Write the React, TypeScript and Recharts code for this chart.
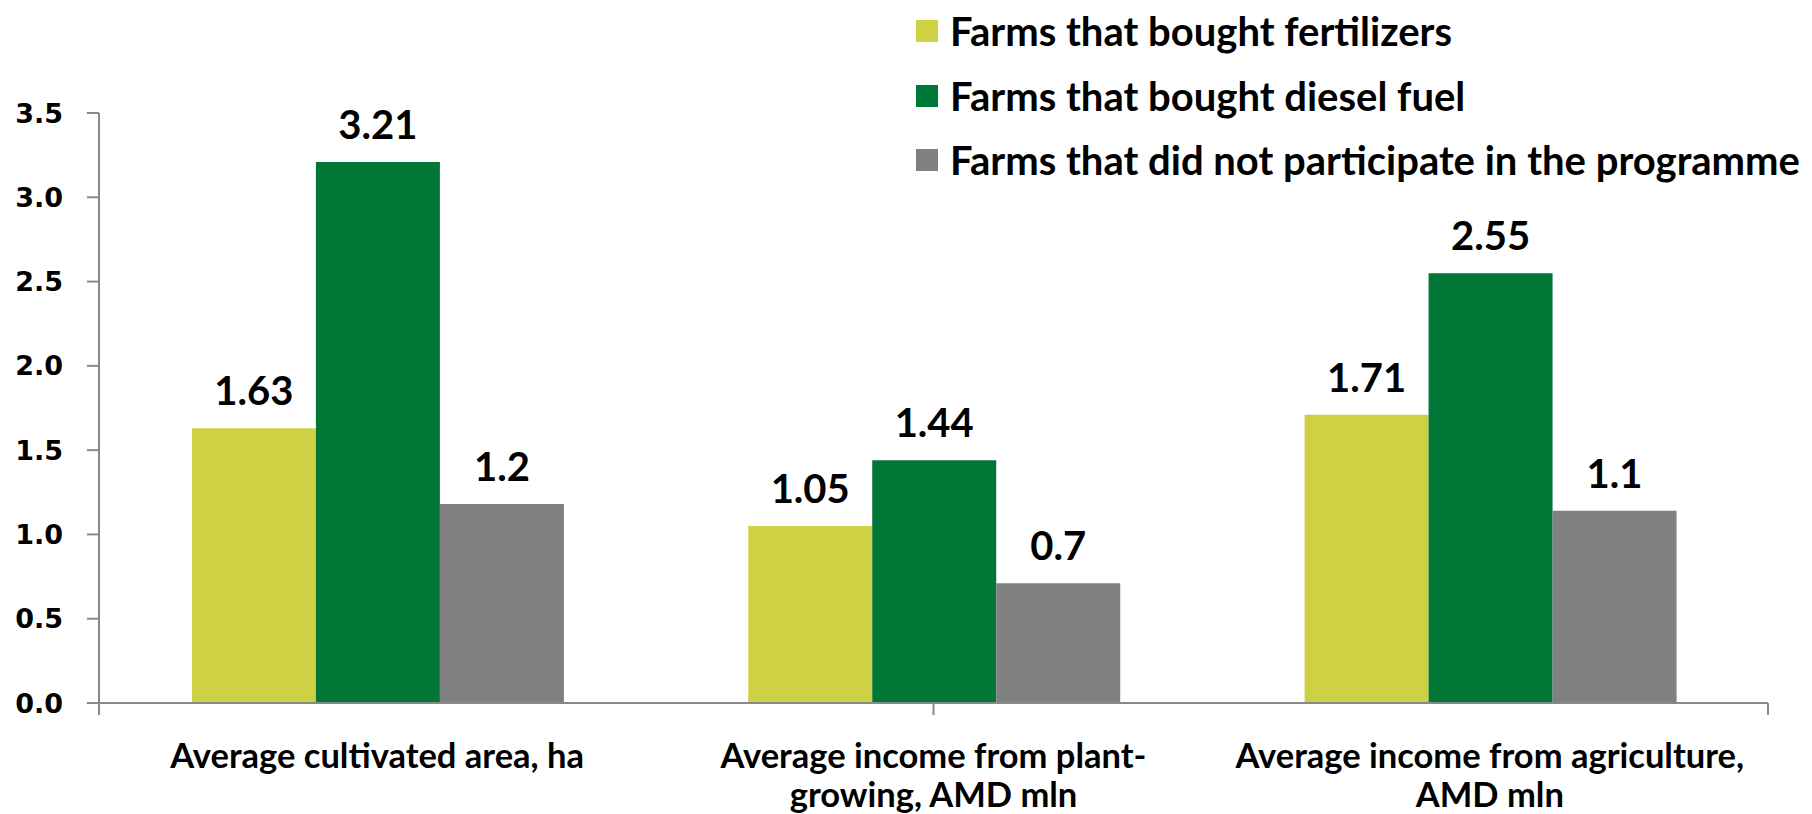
import React from "react";
import { BarChart, Bar, XAxis, YAxis, Legend, LabelList } from "recharts";

const categories = [
  "Average cultivated area, ha",
  "Average income from plant-\ngrowing, AMD mln",
  "Average income from agriculture,\nAMD mln",
];
const fertilizers = [1.63, 1.05, 1.71];
const diesel = [3.21, 1.44, 2.55];
const nonParticipants = [1.18, 0.71, 1.14];
const nonParticipantLabels = ["1.2", "0.7", "1.1"];
const yTicks = [0, 0.5, 1, 1.5, 2, 2.5, 3, 3.5];

const seriesNames = [
  "Farms that bought fertilizers",
  "Farms that bought diesel fuel",
  "Farms that did not participate in the programme",
];

const data = categories.map((name, i) => ({
  name,
  fert: fertilizers[i],
  diesel: diesel[i],
  none: nonParticipants[i],
  noneLabel: nonParticipantLabels[i],
}));

const FONT = "Lato, 'Open Sans', sans-serif";
const AXIS = "#898989";

const CategoryTick = (props: any) => {
  const { x, y, payload } = props;
  const lines = String(payload.value).split("\n");
  return (
    <text x={x} y={y} textAnchor="middle" fill="#000" fontFamily={FONT} fontWeight={700} fontSize={34.5}>
      {lines.map((line, i) => (
        <tspan key={i} x={x} dy={i === 0 ? 51 : 39}>
          {line}
        </tspan>
      ))}
    </text>
  );
};

const EmptyTick = () => <g />;

const renderLegend = (props: any) => {
  // keep the series order, not alphabetical
  const payload = [...props.payload].sort(
    (a: any, b: any) => seriesNames.indexOf(a.value) - seriesNames.indexOf(b.value)
  );
  return (
    <div style={{ fontFamily: FONT, fontWeight: 700, fontSize: 40, color: "#000" }}>
      {payload.map((entry: any) => (
        <div key={entry.value} style={{ display: "flex", alignItems: "center", height: 64.5 }}>
          <span style={{ width: 22, height: 22, background: entry.color, marginRight: 12, display: "inline-block" }} />
          <span style={{ whiteSpace: "nowrap" }}>{entry.value}</span>
        </div>
      ))}
    </div>
  );
};

const labelStyle = { fontFamily: FONT, fontWeight: 700, fontSize: 40, fill: "#000" };

export default function App() {
  return (
    <div style={{ position: "absolute", left: 0, top: 0, background: "#fff" }}>
      <BarChart
        width={1812}
        height={814}
        data={data}
        margin={{ top: 113, right: 44, left: 0, bottom: 0 }}
        barCategoryGap="16.7%"
        barGap={0}
      >
        {/* axis line with ticks on the category boundaries */}
        <XAxis
          xAxisId={0}
          type="number"
          domain={[0, 3]}
          ticks={[0, 1, 2, 3]}
          allowDataOverflow
          tick={<EmptyTick />}
          tickSize={12}
          height={14}
          axisLine={{ stroke: AXIS, strokeWidth: 2 }}
          tickLine={{ stroke: AXIS, strokeWidth: 2 }}
        />
        <XAxis
          xAxisId={1}
          dataKey="name"
          axisLine={false}
          tickLine={false}
          tickSize={0}
          tickMargin={0}
          interval={0}
          height={97}
          tick={<CategoryTick />}
        />
        <YAxis
          domain={[0, 3.5]}
          ticks={yTicks}
          width={99}
          tickSize={12}
          tickMargin={24}
          tickFormatter={(v: number) => v.toFixed(1)}
          axisLine={{ stroke: AXIS, strokeWidth: 2 }}
          tickLine={{ stroke: AXIS, strokeWidth: 2 }}
          tick={{ fill: "#000", fontFamily: "'DejaVu Sans', Verdana, sans-serif", fontWeight: 700, fontSize: 27 }}
        />
        <Legend
          layout="vertical"
          align="center"
          verticalAlign="middle"
          content={renderLegend}
          wrapperStyle={{ left: 916, top: -1, width: 900, height: 200 }}
        />
        <Bar xAxisId={1} dataKey="fert" name={seriesNames[0]} fill="#CFD145" isAnimationActive={false}>
          <LabelList dataKey="fert" position="top" offset={23} style={labelStyle} />
        </Bar>
        <Bar xAxisId={1} dataKey="diesel" name={seriesNames[1]} fill="#007637" isAnimationActive={false}>
          <LabelList dataKey="diesel" position="top" offset={23} style={labelStyle} />
        </Bar>
        <Bar xAxisId={1} dataKey="none" name={seriesNames[2]} fill="#808080" isAnimationActive={false}>
          <LabelList dataKey="noneLabel" position="top" offset={23} style={labelStyle} />
        </Bar>
      </BarChart>
    </div>
  );
}
